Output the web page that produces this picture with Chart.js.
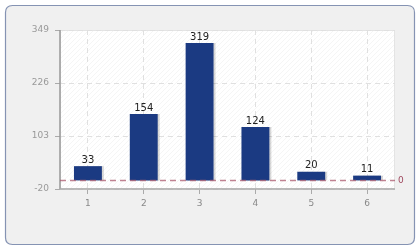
<!DOCTYPE html>
<html><head><meta charset="utf-8">
<script src="https://cdn.jsdelivr.net/npm/chart.js@4/dist/chart.umd.min.js"></script>
<style>
html,body{margin:0;padding:0;background:#fff;}
#wrap{position:relative;width:420px;height:250px;}
canvas{position:absolute;left:0;top:0;}
</style></head>
<body>
<div id="wrap"><canvas id="c" width="420" height="250"></canvas></div>
<script>
const categories = ['1','2','3','4','5','6'];
const values = [33, 154, 319, 124, 20, 11];
const yTicks = [-20, 103, 226, 349];
const zeroValue = 0;

const framePlugin = {
  id:'frame',
  beforeDraw(chart){
    const ctx = chart.ctx;
    ctx.save();
    ctx.fillStyle = '#fff';
    ctx.fillRect(0,0,420,250);
    const x=5.5,y=5.5,w=409,h=239,r=7;
    ctx.beginPath();
    ctx.moveTo(x+r,y);ctx.lineTo(x+w-r,y);ctx.quadraticCurveTo(x+w,y,x+w,y+r);
    ctx.lineTo(x+w,y+h-r);ctx.quadraticCurveTo(x+w,y+h,x+w-r,y+h);
    ctx.lineTo(x+r,y+h);ctx.quadraticCurveTo(x,y+h,x,y+h-r);
    ctx.lineTo(x,y+r);ctx.quadraticCurveTo(x,y,x+r,y);ctx.closePath();
    ctx.fillStyle='#f0f0f0';ctx.fill();
    ctx.strokeStyle='#8593b3';ctx.lineWidth=1.2;ctx.stroke();
    const a = chart.chartArea;
    ctx.fillStyle='#ffffff';
    ctx.fillRect(a.left,a.top,a.right-a.left,a.bottom-a.top);
    ctx.beginPath();
    ctx.rect(a.left,a.top,a.right-a.left,a.bottom-a.top);
    ctx.clip();
    ctx.strokeStyle='rgba(0,0,0,0.04)';
    ctx.lineWidth=1;
    ctx.beginPath();
    for(let i=-300;i<500;i+=5){
      ctx.moveTo(a.left+i, a.bottom);
      ctx.lineTo(a.left+i+(a.bottom-a.top), a.top);
    }
    ctx.stroke();
    ctx.restore();
    ctx.save();
    ctx.strokeStyle='#e4e4e4';ctx.lineWidth=1;
    ctx.strokeRect(a.left+0.5,a.top+0.5,a.right-a.left-1,a.bottom-a.top-1);
    ctx.restore();
  }
};

const shadowPlugin = {
  id:'shadow',
  beforeDatasetsDraw(chart){
    const ctx=chart.ctx; ctx.save();
    ctx.shadowColor='rgba(0,0,0,0.15)';ctx.shadowOffsetX=2;ctx.shadowOffsetY=0;ctx.shadowBlur=0;
  },
  afterDatasetsDraw(chart){ chart.ctx.restore(); }
};

const overlayPlugin = {
  id:'overlay',
  afterDatasetsDraw(chart){
    const ctx=chart.ctx, a=chart.chartArea, ys=chart.scales.y;
    const meta=chart.getDatasetMeta(0);
    ctx.save();
    ctx.setLineDash([]);
    // axis lines
    ctx.strokeStyle='#999';ctx.lineWidth=1.5;
    ctx.beginPath();ctx.moveTo(a.left,a.top);ctx.lineTo(a.left,a.bottom);ctx.stroke();
    ctx.strokeStyle='#aaa';
    ctx.beginPath();ctx.moveTo(a.left,a.bottom);ctx.lineTo(a.right,a.bottom);ctx.stroke();
    // zero line
    const zy=Math.round(ys.getPixelForValue(zeroValue))+0.5;
    ctx.strokeStyle='rgba(170,90,110,0.75)';ctx.lineWidth=1.5;ctx.setLineDash([6,4]);
    ctx.beginPath();ctx.moveTo(a.left,zy);ctx.lineTo(a.right,zy);ctx.stroke();
    ctx.setLineDash([]);
    ctx.fillStyle='#a04a60';ctx.font='9px "DejaVu Sans"';ctx.textAlign='left';ctx.textBaseline='middle';
    ctx.fillText(String(zeroValue), a.right+3, zy);
    // labels
    ctx.fillStyle='#222';ctx.font='10px "DejaVu Sans"';ctx.textAlign='center';ctx.textBaseline='bottom';
    meta.data.forEach((el,i)=>{ ctx.fillText(String(values[i]), el.x, el.y-1); });
    ctx.restore();
  }
};

new Chart(document.getElementById('c'),{
  type:'bar',
  data:{labels:categories,datasets:[{data:values,backgroundColor:'#1b3a82',borderWidth:0,barPercentage:0.5,categoryPercentage:1}]},
  options:{
    responsive:false,animation:false,
    layout:{padding:{left:0,top:30,right:25,bottom:31}},
    plugins:{legend:{display:false},tooltip:{enabled:false}},
    scales:{
      x:{
        grid:{offset:false,color:'#e0e0e0',tickBorderDash:[],tickColor:'#aaa',tickLength:5,drawTicks:true},
        border:{display:false,dash:[5,4]},
        ticks:{color:'#888',font:{family:'DejaVu Sans',size:9},padding:4},
        afterFit(s){s.height=30;}
      },
      y:{
        min:-20,max:349,
        afterBuildTicks(s){s.ticks=yTicks.map(v=>({value:v}));},
        grid:{color:'#e0e0e0',tickBorderDash:[],tickColor:'#aaa',tickLength:5},
        border:{display:false,dash:[5,4]},
        ticks:{color:'#999',font:{family:'DejaVu Sans',size:9},padding:6},
        afterFit(s){s.width=60;}
      }
    }
  },
  plugins:[framePlugin,shadowPlugin,overlayPlugin]
});
</script>
</body></html>
